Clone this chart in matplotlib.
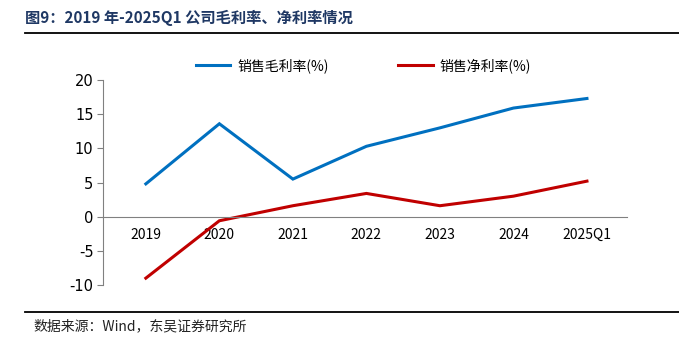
import matplotlib
matplotlib.use("Agg")
import matplotlib.pyplot as plt
from matplotlib.lines import Line2D

plt.rcParams['font.family'] = ['Noto Sans CJK SC', 'DejaVu Sans']

categories = ["2019", "2020", "2021", "2022", "2023", "2024", "2025Q1"]
gross_margin = [4.8, 13.6, 5.5, 10.3, 13.0, 15.9, 17.3]
net_margin = [-9.0, -0.6, 1.6, 3.4, 1.6, 3.0, 5.2]
yticks = [-10, -5, 0, 5, 10, 15, 20]
series_names = ["销售毛利率(%)", "销售净利率(%)"]

fig = plt.figure(figsize=(6.79, 3.45), dpi=100)
ax = fig.add_axes([0.152, 0.174, 0.772, 0.594])

x = list(range(len(categories)))
ax.plot(x, gross_margin, color="#0070C0", lw=2.2, solid_joinstyle="miter")
ax.plot(x, net_margin, color="#C00000", lw=2.2, solid_joinstyle="miter")

ax.set_xlim(-0.58, 6.55)
ax.set_ylim(-10, 20)
ax.set_yticks(yticks)
ax.set_yticklabels([str(v) for v in yticks], fontsize=10.5, family=['DejaVu Sans'])
ax.tick_params(axis='y', direction='out', length=4, color="#808080", pad=3)

ax.set_xticks(x)
ax.set_xticklabels(categories, fontsize=10.5, family=['DejaVu Sans'])
ax.tick_params(axis='x', length=0, pad=8)

for s in ["top", "right"]:
    ax.spines[s].set_visible(False)
ax.spines["bottom"].set_position(("data", 0))
ax.spines["bottom"].set_color("#808080")
ax.spines["left"].set_color("#808080")

# legend
handles = [Line2D([0], [0], color="#0070C0", lw=2.2),
           Line2D([0], [0], color="#C00000", lw=2.2)]
fig.legend(handles, series_names, loc="center", bbox_to_anchor=(0.535, 0.81),
           ncol=2, frameon=False, fontsize=10, handlelength=2.5,
           columnspacing=5.0, handletextpad=0.5)

# title and rules
fig.text(0.037, 0.948, "图9：2019 年-2025Q1 公司毛利率、净利率情况", fontsize=11,
         fontweight="bold", color="#1F3864", va="center", ha="left")
fig.add_artist(Line2D([0.037, 1.0], [0.905, 0.905], color="black", lw=1.3,
                      transform=fig.transFigure))
fig.add_artist(Line2D([0.037, 1.0], [0.097, 0.097], color="black", lw=1.3,
                      transform=fig.transFigure))
fig.text(0.05, 0.055, "数据来源：Wind，东吴证券研究所", fontsize=10,
         color="#222222", va="center", ha="left")

fig.savefig("out.png", dpi=100)
